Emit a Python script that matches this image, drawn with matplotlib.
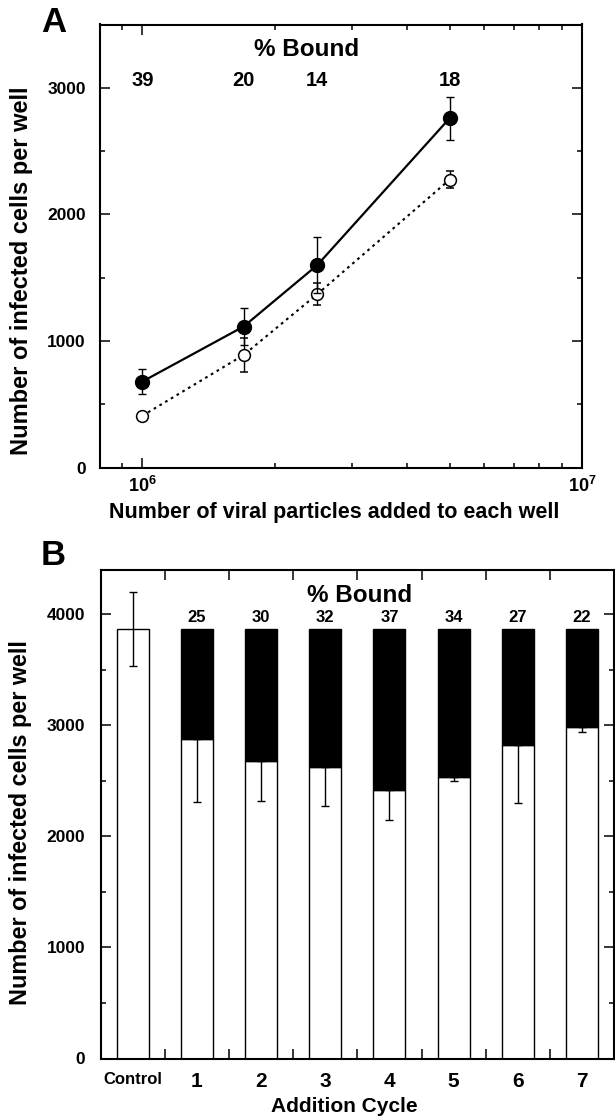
import matplotlib
matplotlib.use("Agg")
import matplotlib.pyplot as plt
from matplotlib.ticker import FixedLocator, NullFormatter, FixedFormatter

plt.rcParams['font.family'] = ['Liberation Sans', 'DejaVu Sans']
plt.rcParams['font.weight'] = 'bold'
plt.rcParams['mathtext.fontset'] = 'custom'
plt.rcParams['mathtext.bf'] = 'Liberation Sans:bold'
plt.rcParams['mathtext.rm'] = 'Liberation Sans:bold'
plt.rcParams['mathtext.default'] = 'bf'

# ---------------- Panel A data ----------------
particles = [1.0e6, 1.7e6, 2.5e6, 5.0e6]
filled_mean = [680, 1115, 1600, 2760]
filled_err = [100, 145, 220, 170]
open_mean = [410, 890, 1370, 2275]
open_err = [25, 135, 85, 65]
bound_a = ['39', '20', '14', '18']
yticks_a = [0, 1000, 2000, 3000]

# ---------------- Panel B data ----------------
categories = ['Control', '1', '2', '3', '4', '5', '6', '7']
control_total = 3870
control_err = 335
cycle_total = [3870, 3870, 3870, 3870, 3870, 3870, 3870]
cycle_unbound = [2880, 2680, 2630, 2420, 2540, 2825, 2990]
cycle_unbound_err = [570, 365, 355, 270, 45, 520, 45]
bound_b = ['25', '30', '32', '37', '34', '27', '22']
yticks_b = [0, 1000, 2000, 3000, 4000]

W, H = 615, 1116
fig = plt.figure(figsize=(W / 100, H / 100), dpi=100)

def fx(px):
    return px / W

def fy(py):
    return 1 - py / H

SPINE_LW = 1.5

# ================= Panel A =================
axA = fig.add_axes([fx(99.7), fy(467.7), fx(582) - fx(99.7), fy(24.5) - fy(467.7)])
axA.set_xscale('log')
axA.set_xlim(8.0e5, 1.0e7)
axA.set_ylim(0, 3500)

axA.plot(particles, open_mean, linestyle=(0, (1.3, 1.9)), color='black', lw=1.5, zorder=2)
axA.errorbar(particles, open_mean, yerr=open_err, fmt='o', ms=8.5, mfc='white', mec='black',
             mew=1.1, ecolor='black', elinewidth=1.0, capsize=3, capthick=1.0, zorder=3)
axA.plot(particles, filled_mean, linestyle='-', color='black', lw=1.6, zorder=4)
axA.errorbar(particles, filled_mean, yerr=filled_err, fmt='o', ms=10, mfc='black', mec='black',
             ecolor='black', elinewidth=1.0, capsize=3, capthick=1.0, zorder=5)

for xv, lab in zip(particles, bound_a):
    axA.text(xv, 3060, lab, ha='center', va='center', fontsize=14.5, fontweight='bold')
fig.text(fx(307), fy(50), '% Bound', ha='center', va='center', fontsize=17.5, fontweight='bold')

axA.xaxis.set_major_locator(FixedLocator([1e6, 1e7]))
axA.xaxis.set_major_formatter(FixedFormatter([r'$\mathbf{10^{6}}$', r'$\mathbf{10^{7}}$']))
minA = [8e5, 9e5] + [k * 1e6 for k in range(2, 10)]
axA.xaxis.set_minor_locator(FixedLocator(minA))
axA.xaxis.set_minor_formatter(NullFormatter())
axA.yaxis.set_major_locator(FixedLocator(yticks_a))
axA.yaxis.set_minor_locator(FixedLocator([500, 1500, 2500]))
axA.tick_params(axis='both', which='major', direction='in', length=7, width=1.1,
                top=True, right=True, labelsize=12.5)
axA.tick_params(axis='both', which='minor', direction='in', length=3.5, width=1.1,
                top=True, right=True)
axA.tick_params(axis='y', which='major', pad=10)
axA.tick_params(axis='x', which='major', pad=6, labelsize=13)
for lab in axA.get_yticklabels() + axA.get_xticklabels():
    lab.set_fontweight('bold')
for sp in axA.spines.values():
    sp.set_linewidth(SPINE_LW)

fig.text(fx(334), fy(512.6), 'Number of viral particles added to each well',
         ha='center', va='center', fontsize=15.5, fontweight='bold')
fig.text(fx(21.5), fy(271), 'Number of infected cells per well', rotation=90,
         ha='center', va='center', fontsize=17, fontweight='bold')
fig.text(fx(53.5), fy(22), 'A', ha='center', va='center', fontsize=25, fontweight='bold')

# ================= Panel B =================
axB = fig.add_axes([fx(100.7), fy(1058.5), fx(614) - fx(100.7), fy(570) - fy(1058.5)])
xpos = list(range(len(categories)))
axB.set_xlim(-0.5, 7.5)
axB.set_ylim(0, 4400)
bw = 0.5

axB.bar(xpos[0], control_total, width=bw, color='white', edgecolor='black', linewidth=1.0, zorder=2)
axB.errorbar(xpos[0], control_total, yerr=control_err, fmt='none', ecolor='black',
             elinewidth=1.0, capsize=3.2, capthick=1.0, zorder=3)

cx = xpos[1:]
axB.bar(cx, cycle_unbound, width=bw, color='white', edgecolor='black', linewidth=1.0, zorder=2)
black_h = [t - u for t, u in zip(cycle_total, cycle_unbound)]
axB.bar(cx, black_h, bottom=cycle_unbound, width=bw, color='black', edgecolor='black',
        linewidth=1.0, zorder=2)
axB.errorbar(cx, cycle_unbound, yerr=[cycle_unbound_err, [0] * len(cx)], fmt='none',
             ecolor='black', elinewidth=1.0, capsize=3.2, capthick=1.0, zorder=3)

for xv, t, lab in zip(cx, cycle_total, bound_b):
    axB.text(xv, 3975, lab, ha='center', va='center', fontsize=12, fontweight='bold')
axB.text(3.54, 4170, '% Bound', ha='center', va='center', fontsize=17.5, fontweight='bold')

axB.xaxis.set_major_locator(FixedLocator(xpos))
axB.xaxis.set_major_formatter(FixedFormatter(categories))
axB.xaxis.set_minor_locator(FixedLocator([i + 0.5 for i in range(7)]))
axB.yaxis.set_major_locator(FixedLocator(yticks_b))
axB.yaxis.set_minor_locator(FixedLocator([500, 1500, 2500, 3500]))
axB.tick_params(axis='x', which='major', length=0, pad=10, top=False)
axB.tick_params(axis='x', which='minor', direction='in', length=7, width=1.1, top=True, bottom=True)
axB.tick_params(axis='y', which='major', direction='in', length=7.5, width=1.1, right=True,
                labelsize=12.5, pad=11)
axB.tick_params(axis='y', which='minor', direction='in', length=3.5, width=1.1, right=True)
for i, lab in enumerate(axB.get_xticklabels()):
    lab.set_fontweight('bold')
    lab.set_fontsize(12 if i == 0 else 15)
for lab in axB.get_yticklabels():
    lab.set_fontweight('bold')
for sp in axB.spines.values():
    sp.set_linewidth(SPINE_LW)

fig.text(fx(344), fy(1106), 'Addition Cycle', ha='center', va='center', fontsize=15,
         fontweight='bold')
fig.text(fx(20.4), fy(823), 'Number of infected cells per well', rotation=90,
         ha='center', va='center', fontsize=16.8, fontweight='bold')
fig.text(fx(53.5), fy(556), 'B', ha='center', va='center', fontsize=25, fontweight='bold')

fig.savefig('out.png', dpi=100)
